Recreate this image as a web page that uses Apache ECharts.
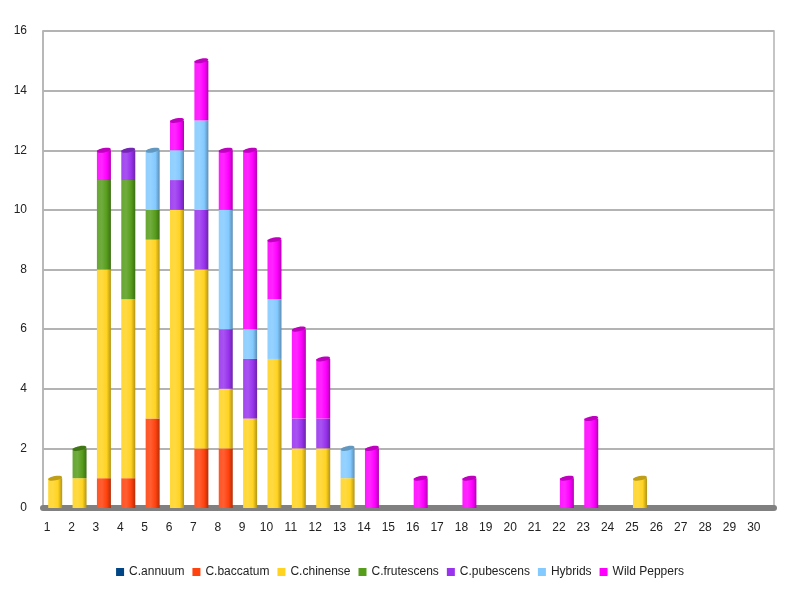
<!DOCTYPE html>
<html><head><meta charset="utf-8">
<script src="https://cdn.jsdelivr.net/npm/echarts@6/dist/echarts.min.js"></script>
<style>html,body{margin:0;padding:0;background:#fff}#c{width:800px;height:590px}</style>
</head><body><div id="c"></div>
<script>
const categories = ['1','2','3','4','5','6','7','8','9','10','11','12','13','14','15','16','17','18','19','20','21','22','23','24','25','26','27','28','29','30'];
const yTicks = [0,2,4,6,8,10,12,14,16];
const seriesNames = ['C.annuum','C.baccatum','C.chinense','C.frutescens','C.pubescens','Hybrids','Wild Peppers'];
const colors = ['#004586','#ff420e','#ffd320','#579d1c','#9933ee','#83caff','#ff00ff'];
const annuum     = [0,0,0,0,0,0,0,0,0,0,0,0,0,0,0,0,0,0,0,0,0,0,0,0,0,0,0,0,0,0];
const baccatum   = [0,0,1,1,3,0,2,2,0,0,0,0,0,0,0,0,0,0,0,0,0,0,0,0,0,0,0,0,0,0];
const chinense   = [1,1,7,6,6,10,6,2,3,5,2,2,1,0,0,0,0,0,0,0,0,0,0,0,1,0,0,0,0,0];
const frutescens = [0,1,3,4,1,0,0,0,0,0,0,0,0,0,0,0,0,0,0,0,0,0,0,0,0,0,0,0,0,0];
const pubescens  = [0,0,0,1,0,1,2,2,2,0,1,1,0,0,0,0,0,0,0,0,0,0,0,0,0,0,0,0,0,0];
const hybrids    = [0,0,0,0,2,1,3,4,1,2,0,0,1,0,0,0,0,0,0,0,0,0,0,0,0,0,0,0,0,0];
const wild       = [0,0,1,0,0,1,2,2,6,2,3,2,0,2,0,1,0,1,0,0,0,1,3,0,0,0,0,0,0,0];
const seriesData = [annuum,baccatum,chinense,frutescens,pubescens,hybrids,wild];

function shade(hex, f){
  let r=parseInt(hex.slice(1,3),16),g=parseInt(hex.slice(3,5),16),b=parseInt(hex.slice(5,7),16);
  if(f>0){r=r+(255-r)*f;g=g+(255-g)*f;b=b+(255-b)*f;}else{r=r*(1+f);g=g*(1+f);b=b*(1+f);}
  return 'rgb('+Math.round(r)+','+Math.round(g)+','+Math.round(b)+')';
}
function cyl(hex){
  return {type:'linear',x:0,y:0,x2:1,y2:0,colorStops:[
    {offset:0,color:shade(hex,0.1)},{offset:0.35,color:shade(hex,0.15)},
    {offset:0.7,color:hex},{offset:1,color:shade(hex,-0.3)}]};
}
// totals and top colour per category (derived from the arrays)
const capData = categories.map((c,j)=>{
  let t=0, top=-1;
  seriesData.forEach((a,i)=>{ if(a[j]>0){t+=a[j]; top=i;} });
  return [j, t, top];
}).filter(d=>d[1]>0);

const chart = echarts.init(document.getElementById('c'));
const series = seriesNames.map((n,i)=>({
  name:n, type:'bar', stack:'s', barWidth:14,
  itemStyle:{color:cyl(colors[i])},
  data:seriesData[i]
}));
series.push({
  name:'caps', type:'custom', z:5, silent:true,
  data:capData,
  renderItem:(params, api)=>{
    const p = api.coord([api.value(0), api.value(1)]);
    const col = colors[api.value(2)];
    return {type:'ellipse', x:p[0], y:p[1], rotation:0.18,
      shape:{cx:0, cy:0, rx:7, ry:2.2},
      style:{fill:shade(col,-0.25)}};
  }
});
chart.setOption({
  animation:false,
  color:colors,
  textStyle:{fontFamily:'Liberation Sans, Arial, sans-serif'},
  grid:{left:43,right:26,top:31,bottom:82,show:true,borderColor:'#b3b3b3',borderWidth:1.5},
  legend:{bottom:7,left:'center',icon:'rect',itemWidth:8,itemHeight:8,itemGap:8,
    textStyle:{fontSize:12,color:'#222',fontFamily:'Liberation Sans, Arial, sans-serif'},
    data:seriesNames.map((n,i)=>({name:n,itemStyle:{color:colors[i]}}))},
  xAxis:{type:'category',data:categories,
    axisLine:{lineStyle:{color:'#808080',width:6}},
    axisTick:{show:false},
    axisLabel:{color:'#222',fontSize:12,margin:14,padding:[0,16,0,0],interval:0}},
  yAxis:{type:'value',min:0,max:16,interval:2,
    axisLine:{show:true,lineStyle:{color:'#b3b3b3',width:1.5}},
    axisTick:{show:false},
    splitLine:{lineStyle:{color:'#b3b3b3',width:2}},
    axisLabel:{color:'#222',fontSize:12,margin:16,
      formatter:v=>yTicks.includes(v)?String(v):''}},
  series:series
});
</script></body></html>
